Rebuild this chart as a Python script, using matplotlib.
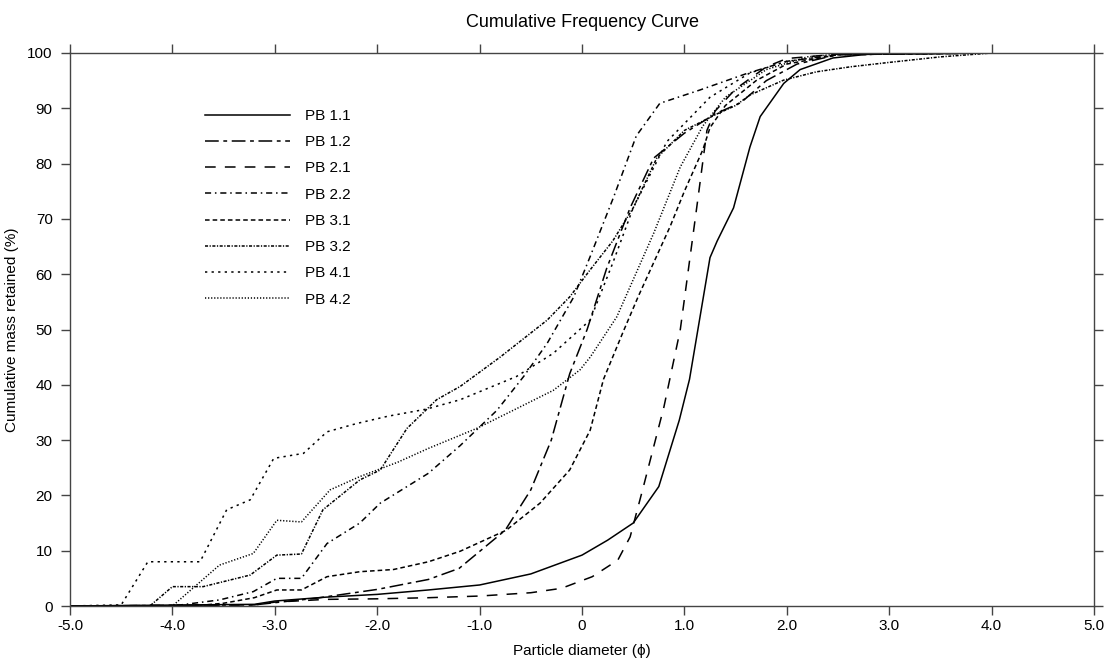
import matplotlib
matplotlib.use("Agg")
import matplotlib.pyplot as plt

plt.rcParams["font.family"] = ["Liberation Sans", "DejaVu Sans"]

# particle diameter (phi) / cumulative mass retained (%)
pb11_x = [-5.0, -3.2, -3.0, -2.5, -2.0, -1.5, -1.0, -0.5, 0.0, 0.25, 0.5, 0.75, 0.95, 1.05,
          1.15, 1.25, 1.32, 1.48, 1.64, 1.74, 1.97, 2.13, 2.45, 2.8, 4.0]
pb11_y = [0, 0.3, 0.9, 1.6, 2.1, 2.9, 3.8, 5.8, 9.2, 11.9, 15.0, 21.6, 33.6, 41, 52, 63, 66,
          72, 83, 88.5, 94.5, 97, 99.1, 99.8, 100]

pb12_x = [-5.0, -3.2, -3.0, -2.6, -2.0, -1.5, -1.2, -0.75, -0.5, -0.3, -0.12, 0.05, 0.24,
          0.47, 0.7, 1.0, 1.3, 1.55, 1.8, 2.1, 2.5, 4.0]
pb12_y = [0, 0.2, 0.6, 1.4, 3.0, 4.8, 6.8, 13.7, 21, 30, 42, 50, 61, 72, 81, 85.5, 89, 91,
          95, 98, 99.7, 100]

pb21_x = [-5.0, -3.2, -3.0, -2.5, -2.0, -1.5, -1.0, -0.5, -0.2, 0.1, 0.35, 0.47, 0.6, 0.8,
          0.96, 1.12, 1.22, 1.3, 1.5, 1.8, 2.0, 2.5, 4.0]
pb21_y = [0, 0.2, 0.7, 1.2, 1.3, 1.5, 1.8, 2.4, 3.2, 5.3, 8.3, 12.5, 21.6, 36, 50, 72, 86,
          89.5, 93.5, 97.5, 99, 99.8, 100]

pb22_x = [-5.0, -4.0, -3.54, -3.21, -2.98, -2.74, -2.49, -2.17, -1.97, -1.5, -1.19, -0.83,
          -0.57, -0.34, -0.08, 0.08, 0.31, 0.53, 0.76, 1.15, 1.61, 2.0, 2.5, 4.0]
pb22_y = [0, 0, 1.1, 2.6, 5.0, 5.0, 11.3, 15, 18.6, 24, 29, 35.4, 41.5, 47.5, 55.9, 63.2,
          74, 85, 90.9, 93.3, 96.3, 98.5, 99.7, 100]

pb31_x = [-5.0, -3.8, -3.5, -3.2, -2.98, -2.74, -2.49, -2.17, -1.84, -1.5, -1.19, -0.74,
          -0.41, -0.12, 0.08, 0.21, 0.4, 0.55, 0.86, 1.0, 1.18, 1.25, 1.4, 1.7, 2.0, 2.5, 4.0]
pb31_y = [0, 0, 0.5, 1.5, 2.9, 2.9, 5.3, 6.2, 6.6, 8.0, 9.9, 13.7, 18.6, 24.6, 31.8, 41,
          49.5, 56, 68.6, 75, 82.5, 86.5, 90.5, 95, 98, 99.7, 100]

pb32_x = [-5.0, -4.22, -4.0, -3.7, -3.24, -2.98, -2.74, -2.53, -2.17, -1.97, -1.71, -1.42,
          -1.19, -0.8, -0.34, -0.12, 0.08, 0.3, 0.5, 0.73, 1.0, 1.32, 1.5, 1.64, 1.97, 2.29,
          2.62, 3.0, 3.5, 4.0]
pb32_y = [0, 0, 3.5, 3.5, 5.6, 9.2, 9.4, 17.4, 22.8, 24.6, 32.1, 37.3, 39.7, 45, 51.7, 55.9,
          60.8, 66, 72, 81, 86, 89, 90.5, 92.4, 95.1, 96.6, 97.5, 98.3, 99.3, 100]

pb41_x = [-5.0, -4.5, -4.24, -3.73, -3.47, -3.24, -3.01, -2.72, -2.49, -2.2, -1.9, -1.52,
          -1.19, -0.64, -0.28, 0.08, 0.3, 0.5, 0.83, 1.25, 1.64, 2.0, 2.5, 4.0]
pb41_y = [0, 0.2, 8.0, 8.0, 17.4, 19.2, 26.7, 27.6, 31.5, 33, 34.3, 35.6, 37.3, 41.5, 45.7,
          51.7, 62, 72, 84, 92, 96.4, 98.5, 99.7, 100]

pb42_x = [-5.0, -4.0, -3.54, -3.21, -2.98, -2.74, -2.46, -2.17, -1.8, -1.5, -1.03, -0.67,
          -0.28, -0.02, 0.08, 0.34, 0.7, 0.96, 1.18, 1.4, 1.8, 2.2, 2.5, 4.0]
pb42_y = [0, 0, 7.4, 9.5, 15.5, 15.2, 21, 23.4, 26, 28.5, 32.1, 35.4, 39, 42.7, 45, 52.3,
          67.4, 79.4, 86.8, 92, 97, 99.3, 99.8, 100]

labels = ["PB 1.1", "PB 1.2", "PB 2.1", "PB 2.2", "PB 3.1", "PB 3.2", "PB 4.1", "PB 4.2"]
series = [(pb11_x, pb11_y), (pb12_x, pb12_y), (pb21_x, pb21_y), (pb22_x, pb22_y),
          (pb31_x, pb31_y), (pb32_x, pb32_y), (pb41_x, pb41_y), (pb42_x, pb42_y)]
styles = [
    "-",
    (0, (9, 3, 2.5, 3)),
    (0, (7, 6)),
    (0, (4, 2.5, 1, 2.5)),
    (0, (3, 2)),
    (0, (2, 1, 0.8, 1)),
    (0, (1.5, 2.8)),
    (0, (0.8, 1.2)),
]

fig = plt.figure(figsize=(11.1, 6.62), dpi=100)
ax = fig.add_axes([70 / 1110, 1 - 606 / 662, 1024 / 1110, 553 / 662])

for (xs, ys), lab, ls in zip(series, labels, styles):
    ax.plot(xs, ys, color="black", linestyle=ls, linewidth=1.1, label=lab)

ax.set_xlim(-5, 5)
ax.set_ylim(0, 100)
xticks = [-5, -4, -3, -2, -1, 0, 1, 2, 3, 4, 5]
ax.set_xticks(xticks)
ax.set_xticklabels(["0" if t == 0 else f"{t:.1f}" for t in xticks])
ax.set_yticks(range(0, 101, 10))

ax.tick_params(axis="both", direction="out", length=6.5, width=1, color="#444444",
               labelsize=11, top=True, right=True)
ax.tick_params(axis="x", pad=3)
ax.tick_params(axis="y", pad=6)
for sp in ax.spines.values():
    sp.set_color("#444444")
    sp.set_linewidth(1)

ax.set_xlabel("Particle diameter (ϕ)", fontsize=11, labelpad=8)
ax.set_ylabel("Cumulative mass retained (%)", fontsize=11, labelpad=6)
ax.set_title("Cumulative Frequency Curve", fontsize=13, pad=19)

ax.legend(loc="upper left", bbox_to_anchor=((205 - 70) / 1024, (606 - 109) / 553),
          frameon=False, fontsize=11, handlelength=5.56, handletextpad=1.0,
          labelspacing=0.8, borderpad=0, borderaxespad=0)

fig.savefig("out.png", dpi=100)
